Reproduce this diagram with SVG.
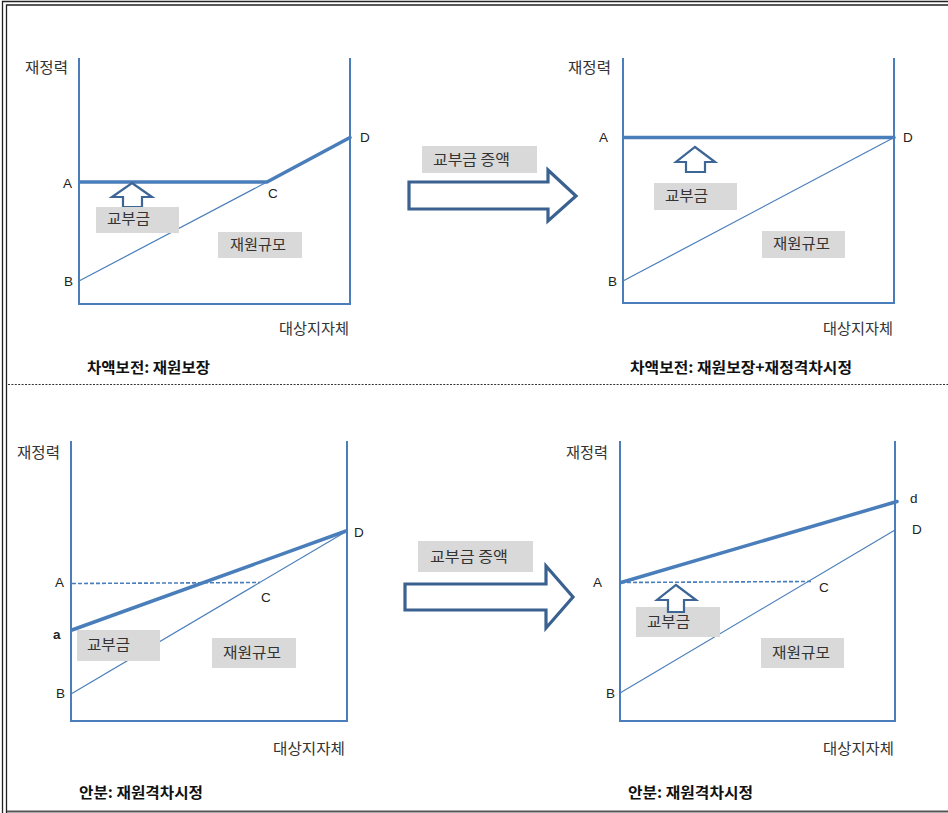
<svg xmlns="http://www.w3.org/2000/svg" width="948" height="813" viewBox="0 0 948 813">
  <style>
    .axis { fill: none; stroke: #4a7ebb; stroke-width: 2; }
    .thin { fill: none; stroke: #4a7ebb; stroke-width: 1.2; }
    .thick { fill: none; stroke: #4a7ebb; stroke-width: 3.5; stroke-linecap: round; stroke-linejoin: round; }
    .dash { fill: none; stroke: #4a7ebb; stroke-width: 1.6; stroke-dasharray: 4 2; }
    .up { fill: #ffffff; stroke: #3d6595; stroke-width: 2.2; stroke-linejoin: miter; }
    .big { fill: #ffffff; stroke: #3b6190; stroke-width: 3.2; stroke-linejoin: miter; }
    .box { fill: #d9d9d9; }
    .kr { font-family: "Noto Sans CJK KR", "Noto Sans", sans-serif; font-size: 15px; fill: #333333; }
    .cap { font-family: "Noto Sans CJK KR", "Noto Sans", sans-serif; font-size: 15px; font-weight: 700; fill: #111111; }
    .pt { font-family: "Liberation Sans", Arial, sans-serif; font-size: 13.5px; fill: #222222; }
    .frame { fill: none; stroke: #222222; stroke-width: 1.3; }
  </style>

  <rect x="0" y="0" width="948" height="813" fill="#ffffff"/>

  <!-- outer frame -->
  <g id="frame">
    <polyline class="frame" points="2.5,813 2.5,1.5 948,1.5"/>
    <polyline class="frame" points="6.5,813 6.5,5 948,5"/>
    <line x1="7" y1="811.5" x2="948" y2="811.5" stroke="#555555" stroke-width="2"/>
    <line x1="8" y1="384.5" x2="948" y2="384.5" stroke="#333333" stroke-width="1" stroke-dasharray="2 1.4"/>
  </g>

  <!-- panel 1: top left -->
  <g id="panel-top-left">
    <polyline class="axis" points="79,58 79,304 350,304 350,58"/>
    <g id="tl-connectors">
      <line class="thin" x1="79" y1="281" x2="267" y2="182"/>
      <polyline class="thick" points="80,182 267,182 350,137.5"/>
    </g>
    <polygon class="up" points="132,183 152,197 142,197 142,207 123,207 123,197 112,197"/>
    <g id="tl-grant"><rect class="box" x="96" y="207" width="83" height="26"/><text class="kr" x="107" y="224" textLength="43" lengthAdjust="spacingAndGlyphs">교부금</text></g>
    <g id="tl-resource"><rect class="box" x="218" y="232" width="84" height="26"/><text class="kr" x="230" y="250" textLength="56" lengthAdjust="spacingAndGlyphs">재원규모</text></g>
    <text class="kr" x="25" y="73" textLength="43" lengthAdjust="spacingAndGlyphs">재정력</text>
    <text class="pt" x="63" y="188">A</text>
    <text class="pt" x="64" y="286">B</text>
    <text class="pt" x="268" y="198">C</text>
    <text class="pt" x="360" y="142">D</text>
    <text class="kr" x="279" y="334" textLength="70" lengthAdjust="spacingAndGlyphs">대상지자체</text>
    <text class="cap" x="87" y="373" textLength="123" lengthAdjust="spacingAndGlyphs">차액보전: 재원보장</text>
  </g>

  <!-- panel 2: top right -->
  <g id="panel-top-right">
    <polyline class="axis" points="623,58 623,303 894,303 894,58"/>
    <g id="tr-connectors">
      <line class="thin" x1="623" y1="281" x2="894" y2="137.5"/>
      <line class="thick" x1="624" y1="137.5" x2="894" y2="137.5"/>
    </g>
    <polygon class="up" points="695,147 715,162 705,162 705,172 686,172 686,162 676,162"/>
    <g id="tr-grant"><rect class="box" x="654" y="183" width="83" height="27"/><text class="kr" x="665" y="201" textLength="43" lengthAdjust="spacingAndGlyphs">교부금</text></g>
    <g id="tr-resource"><rect class="box" x="762" y="231" width="83" height="27"/><text class="kr" x="773" y="249" textLength="57" lengthAdjust="spacingAndGlyphs">재원규모</text></g>
    <text class="kr" x="568" y="73" textLength="43" lengthAdjust="spacingAndGlyphs">재정력</text>
    <text class="pt" x="599" y="142">A</text>
    <text class="pt" x="608" y="286">B</text>
    <text class="pt" x="903" y="142">D</text>
    <text class="kr" x="823" y="334" textLength="70" lengthAdjust="spacingAndGlyphs">대상지자체</text>
    <text class="cap" x="630" y="373" textLength="222" lengthAdjust="spacingAndGlyphs">차액보전: 재원보장+재정격차시정</text>
  </g>

  <!-- transition arrow, top row -->
  <g id="arrow-top">
    <polygon class="big" points="409,182 548,182 548,170 576,196 548,221 548,209 409,209"/>
    <rect class="box" x="422" y="146" width="115" height="27"/>
    <text class="kr" x="433" y="165" textLength="77" lengthAdjust="spacingAndGlyphs">교부금 증액</text>
  </g>

  <!-- panel 3: bottom left -->
  <g id="panel-bottom-left">
    <polyline class="axis" points="71,441 71,721 347,721 347,441"/>
    <g id="bl-connectors">
      <line class="thin" x1="71" y1="694" x2="347" y2="531"/>
      <line class="dash" x1="72" y1="583.5" x2="260" y2="582.5"/>
      <line class="thick" x1="72" y1="630" x2="346" y2="531"/>
    </g>
    <g id="bl-grant"><rect class="box" x="77" y="630" width="83" height="31"/><text class="kr" x="87" y="650" textLength="43" lengthAdjust="spacingAndGlyphs">교부금</text></g>
    <g id="bl-resource"><rect class="box" x="212" y="638" width="84" height="30"/><text class="kr" x="223" y="658" textLength="58" lengthAdjust="spacingAndGlyphs">재원규모</text></g>
    <text class="kr" x="17" y="458" textLength="43" lengthAdjust="spacingAndGlyphs">재정력</text>
    <text class="pt" x="55" y="587">A</text>
    <text class="pt" x="53" y="639" font-weight="700" font-size="12">a</text>
    <text class="pt" x="56" y="698">B</text>
    <text class="pt" x="261" y="602">C</text>
    <text class="pt" x="354" y="537">D</text>
    <text class="kr" x="273" y="754" textLength="72" lengthAdjust="spacingAndGlyphs">대상지자체</text>
    <text class="cap" x="79" y="798" textLength="124" lengthAdjust="spacingAndGlyphs">안분: 재원격차시정</text>
  </g>

  <!-- transition arrow, bottom row -->
  <g id="arrow-bottom">
    <polygon class="big" points="405,584 546,584 546,566 573,597 546,628 546,610 405,610"/>
    <rect class="box" x="418" y="541" width="115" height="31"/>
    <text class="kr" x="430" y="562" textLength="78" lengthAdjust="spacingAndGlyphs">교부금 증액</text>
  </g>

  <!-- panel 4: bottom right -->
  <g id="panel-bottom-right">
    <polyline class="axis" points="620,441 620,721 895,721 895,441"/>
    <g id="br-connectors">
      <line class="thin" x1="620" y1="693" x2="895" y2="530"/>
      <line class="dash" x1="621" y1="582.5" x2="812" y2="581.5"/>
      <line class="thick" x1="621" y1="582.5" x2="897" y2="501.5"/>
    </g>
    <g id="br-grant"><rect class="box" x="636" y="607" width="84" height="30"/><text class="kr" x="647" y="627" textLength="43" lengthAdjust="spacingAndGlyphs">교부금</text></g>
    <polygon class="up" points="676,585 696,600 684,600 684,612 668,612 668,600 657,600"/>
    <g id="br-resource"><rect class="box" x="761" y="638" width="83" height="30"/><text class="kr" x="772" y="658" textLength="58" lengthAdjust="spacingAndGlyphs">재원규모</text></g>
    <text class="kr" x="566" y="458" textLength="42" lengthAdjust="spacingAndGlyphs">재정력</text>
    <text class="pt" x="593" y="587">A</text>
    <text class="pt" x="606" y="698">B</text>
    <text class="pt" x="819" y="592">C</text>
    <text class="pt" x="912" y="534">D</text>
    <text class="pt" x="910" y="503">d</text>
    <text class="kr" x="823" y="754" textLength="71" lengthAdjust="spacingAndGlyphs">대상지자체</text>
    <text class="cap" x="628" y="798" textLength="125" lengthAdjust="spacingAndGlyphs">안분: 재원격차시정</text>
  </g>
</svg>
